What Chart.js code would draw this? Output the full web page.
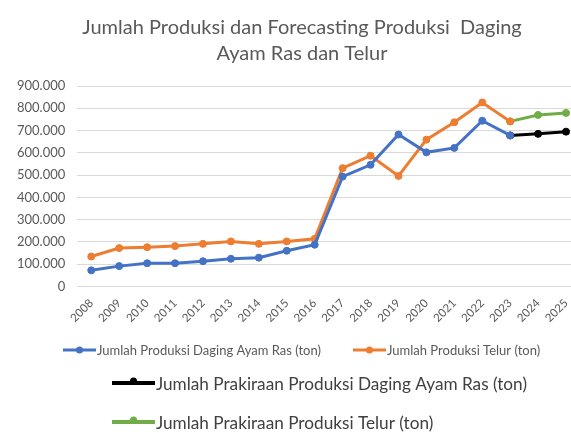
<!DOCTYPE html>
<html>
<head>
<meta charset="utf-8">
<script src="https://cdn.jsdelivr.net/npm/chart.js@4"></script>
<style>
html,body{margin:0;padding:0;background:#fff;overflow:hidden;}
#wrap{width:571px;height:433px;position:relative;overflow:hidden;}
</style>
</head>
<body>
<div id="wrap"><canvas id="c" width="592" height="433"></canvas></div>
<script>
const titleLines = ["Jumlah Produksi dan Forecasting Produksi  Daging", "Ayam Ras dan Telur"];
const years = ["2008","2009","2010","2011","2012","2013","2014","2015","2016","2017","2018","2019","2020","2021","2022","2023","2024","2025"];
const dagingProduksi = [72000, 91000, 104000, 104000, 113000, 124000, 129000, 160000, 187000, 493000, 546000, 682000, 602000, 622000, 744000, 678000, null, null];
const telurProduksi = [134000, 172000, 176000, 181000, 191000, 202000, 191000, 202000, 214000, 531000, 587000, 496000, 659000, 737000, 826000, 741000, null, null];
const dagingPrakiraan = [null, null, null, null, null, null, null, null, null, null, null, null, null, null, null, 678000, 685000, 695000];
const telurPrakiraan = [null, null, null, null, null, null, null, null, null, null, null, null, null, null, null, 741000, 770000, 779000];
const seriesLabels = [
  "Jumlah Produksi Daging Ayam Ras (ton)",
  "Jumlah Produksi Telur (ton)",
  "Jumlah Prakiraan Produksi Daging Ayam Ras (ton)",
  "Jumlah Prakiraan Produksi Telur (ton)"
];
const colors = ["#4472C4", "#ED7D31", "#000000", "#70AD47"];
const FONT = "Lato";

function ds(label, data, color) {
  return {
    label, data, borderColor: color, backgroundColor: color,
    borderWidth: 3, pointRadius: 3.5, pointHoverRadius: 3.5,
    pointBackgroundColor: color, pointBorderColor: color, pointBorderWidth: 1,
    tension: 0, spanGaps: false
  };
}

const customText = {
  id: 'customText',
  afterDraw(chart) {
    const ctx = chart.ctx;
    ctx.save();
    ctx.fillStyle = '#595959';
    ctx.font = `20px ${FONT}`;
    ctx.textAlign = 'center';
    ctx.textBaseline = 'middle';
    ctx.fillText(titleLines[0], 302, 28);
    ctx.fillText(titleLines[1], 302, 54);
    const items = [
      {i:0, x:63, y:350, len:33, size:13, lw:3, bump:0, color:'#595959'},
      {i:1, x:353, y:350, len:33, size:13, lw:3, bump:0, color:'#595959'},
      {i:2, x:112, y:383, len:43, size:17.2, lw:4, bump:2, color:'#404040'},
      {i:3, x:112, y:422, len:43, size:17.2, lw:4, bump:2, color:'#404040'}
    ];
    ctx.textAlign = 'left';
    items.forEach(it => {
      const d = chart.data.datasets[it.i];
      ctx.strokeStyle = d.borderColor;
      ctx.lineWidth = it.lw;
      ctx.beginPath();
      ctx.moveTo(it.x, it.y);
      ctx.lineTo(it.x + it.len, it.y);
      ctx.stroke();
      ctx.fillStyle = d.borderColor;
      ctx.beginPath();
      ctx.arc(it.x + it.len / 2, it.y - it.bump, 3.5, 0, Math.PI * 2);
      ctx.fill();
      ctx.fillStyle = it.color;
      ctx.font = `${it.size}px ${FONT}`;
      ctx.fillText(d.label, it.x + it.len + 1, it.y + 1);
    });
    ctx.restore();
  }
};

new Chart(document.getElementById('c'), {
  type: 'line',
  data: {
    labels: years,
    datasets: [
      ds(seriesLabels[0], dagingProduksi, colors[0]),
      ds(seriesLabels[1], telurProduksi, colors[1]),
      ds(seriesLabels[2], dagingPrakiraan, colors[2]),
      ds(seriesLabels[3], telurPrakiraan, colors[3])
    ]
  },
  options: {
    responsive: false,
    animation: false,
    layout: { padding: { top: 86, left: 5, right: 12, bottom: 98 } },
    plugins: {
      legend: { display: false },
      title: { display: false },
      tooltip: { enabled: false }
    },
    scales: {
      x: {
        offset: true,
        grid: { display: false, drawTicks: false },
        border: { display: false },
        afterFit: s => { s.paddingLeft = 0; s.paddingRight = 0; },
        ticks: {
          color: '#595959', font: { family: FONT, size: 11.5 },
          maxRotation: 45, minRotation: 45, autoSkip: false, padding: 10
        }
      },
      y: {
        min: 0, max: 900000,
        grid: { color: '#D9D9D9', lineWidth: 1, drawTicks: false },
        border: { display: false },
        ticks: {
          stepSize: 100000, color: '#595959', font: { family: FONT, size: 13 }, padding: 12,
          callback: v => v === 0 ? '0' : String(v).replace(/\B(?=(\d{3})+(?!\d))/g, '.')
        }
      }
    }
  },
  plugins: [customText]
});
</script>
</body>
</html>
